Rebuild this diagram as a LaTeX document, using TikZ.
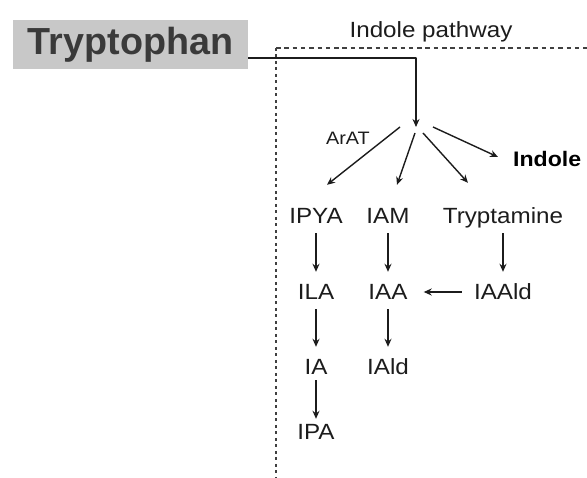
\documentclass[tikz,border=0pt]{standalone}
\usepackage{fontspec}
\setmainfont{Liberation Sans}[FakeStretch=1.1]
\newfontfamily\boxfont{Liberation Sans}
\usetikzlibrary{arrows.meta}
\definecolor{inkgray}{HTML}{1C1C1C}
\definecolor{boxgray}{HTML}{C8C8C8}
\definecolor{titlegray}{HTML}{3A3A3A}
\definecolor{framegray}{HTML}{404040}
\tikzset{
  cpd/.style={anchor=base, inner sep=0pt, text height=16pt, text depth=0pt,
    font=\fontsize{22}{26}\selectfont, text=inkgray},
  branch/.style={-{Stealth[length=8pt,width=7pt]}, draw=inkgray, line width=1.4pt},
  conv/.style={branch, shorten <=9pt, shorten >=12pt}
}

\begin{document}
\begin{tikzpicture}[x=1pt, y=-1pt, line join=round]
\useasboundingbox (0,0) rectangle (587,478);
% frame
\draw[framegray, line width=1.3pt, dash pattern=on 4.5pt off 3.8pt] (276,48) -- (587,48);
\draw[framegray, line width=1.5pt, dash pattern=on 3pt off 3.5pt] (276,48) -- (276,478);
\node[fill=boxgray, minimum width=235pt, minimum height=49pt, inner sep=0pt, text=titlegray,
  font=\boxfont\fontsize{37.7}{40}\selectfont\bfseries] (trp) at (130.5,44.5) {Tryptophan};
\node[cpd] (path) at (431,38) {Indole pathway};
\node[cpd, font=\fontsize{18}{22}\selectfont] (arat) at (348,145) {ArAT};
\node[cpd, anchor=base west, font=\fontsize{21}{25}\selectfont\bfseries, text=black] (indole) at (513,167) {Indole};
\node[cpd] (ipya) at (316,224) {IPYA};
\node[cpd] (iam)  at (388,224) {IAM};
\node[cpd] (tam)  at (503,224) {Tryptamine};
\node[cpd] (ila)  at (316,300) {ILA};
\node[cpd] (iaa)  at (388,300) {IAA};
\node[cpd] (iaald) at (503,300) {IAAld};
\node[cpd] (ia)   at (316,375) {IA};
\node[cpd] (iald) at (388,375) {IAld};
\node[cpd] (ipa)  at (316,440) {IPA};
\coordinate (turn) at (416,58);
\coordinate (hub) at (416,127);
\draw[branch] (trp.east |- turn) -- (turn) -- (hub);
\draw[branch] ([shift={(-16,0)}]hub) -- ([shift={(11,-23)}]ipya.north);
\draw[branch] ([shift={(-1,6)}]hub) -- ([shift={(9,-23)}]iam.north);
\draw[branch] ([shift={(7,6)}]hub) -- ([shift={(-35,-25)}]tam.north);
\draw[branch] ([shift={(17,0)}]hub) -- ([shift={(-15,-2)}]indole.west);
\draw[conv] (ipya) -- (ila);
\draw[conv] (ila) -- (ia);
\draw[conv, shorten <=5pt, shorten >=5pt] (ia) -- (ipa);
\draw[conv] (iam) -- (iaa);
\draw[conv] (iaa) -- (iald);
\draw[conv] (tam) -- (iaald);
\draw[conv, shorten <=12pt, shorten >=16pt] (iaald) -- (iaa);
\end{tikzpicture}
\end{document}
